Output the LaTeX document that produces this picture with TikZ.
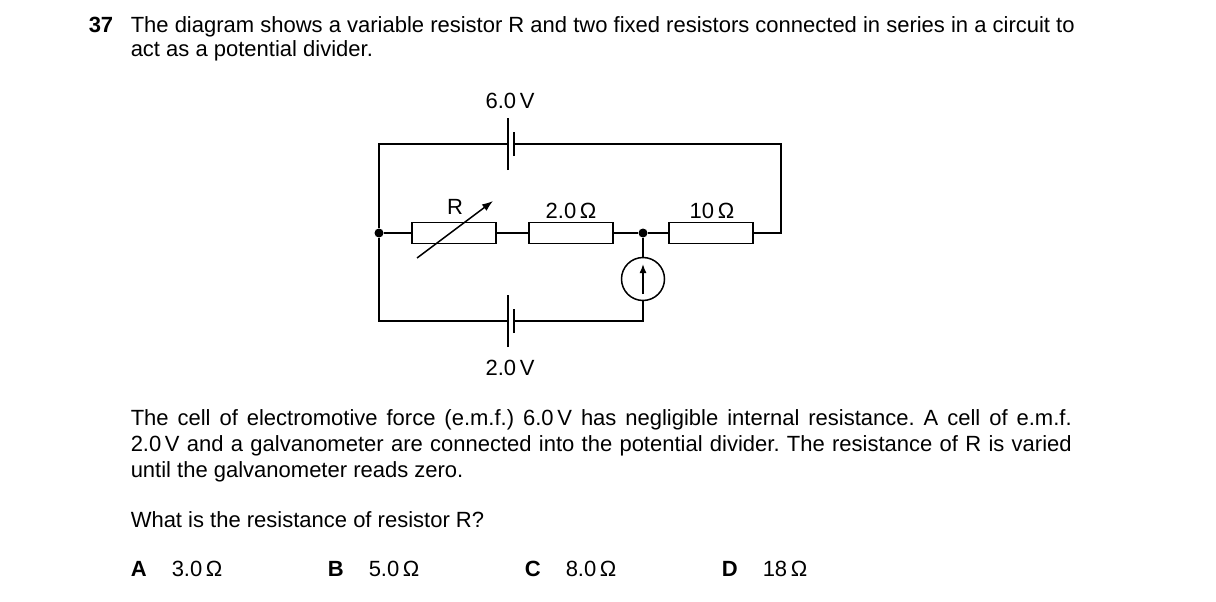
\documentclass[tikz,border=0pt]{standalone}
\usepackage{fontspec}
\setmainfont{Liberation Sans}
\usetikzlibrary{arrows.meta}
\begin{document}
\frenchspacing
\begin{tikzpicture}[x=1pt,y=-1pt,line width=1.5pt,
  txt/.style={inner sep=0pt,font=\fontsize{22}{26}\selectfont},
  btxt/.style={inner sep=0pt,font=\fontsize{22}{26}\selectfont\bfseries},
  res/.style={draw,minimum width=84pt,minimum height=21pt,inner sep=0pt},
  dot/.style={circle,fill,inner sep=0pt,minimum size=9pt},
  lab/.style={txt,anchor=base}]
\useasboundingbox (0,0) rectangle (1216,602);
\node[btxt,anchor=base west] (num) at (88,33) {37};
\node[txt,anchor=base west] (q1) at (130,33) {The diagram shows a variable resistor R and two fixed resistors connected in series in a circuit to};
\node[txt,anchor=base west] (q2) at (130,57) {act as a potential divider.};
% circuit
\coordinate (TL) at (379,144); \coordinate (TR) at (781,144);
\coordinate (BL) at (379,321); \coordinate (BG) at (643,321);
\node[dot] (J1) at (379,233) {};
\node[dot] (J2) at (643,233) {};
\node[res] (R) at (454,233) {};
\node[res] (R2) at (571,233) {};
\node[res] (R3) at (711,233) {};
\node[circle,draw,minimum size=43pt,inner sep=0pt] (G) at (643,279) {};
\coordinate (c1a) at (508,144); \coordinate (c1b) at (514,144);
\coordinate (c2a) at (508,321); \coordinate (c2b) at (514,321);
\coordinate (ga) at (643,294); \coordinate (gb) at (643,264);
\draw (c1a) -- (TL) -- (J1) -- (BL) -- (c2a);
\draw (c1b) -- (TR) |- (R3.east);
\draw (J1) -- (R.west) (R.east) -- (R2.west) (R2.east) -- (J2) -- (R3.west);
\draw (J2) -- (G.north) (G.south) -- (BG) -- (c2b);
\draw ([yshift=-26pt]c1a) -- ([yshift=26pt]c1a);
\draw ([yshift=-12pt]c1b) -- ([yshift=12pt]c1b);
\draw ([yshift=-26pt]c2a) -- ([yshift=26pt]c2a);
\draw ([yshift=-12pt]c2b) -- ([yshift=12pt]c2b);
\draw[-{Latex[length=11pt,width=8pt]}] (417,258) -- (493,201);
\draw[-{Latex[length=9pt,width=7pt]}] (ga) -- (gb);
\node[lab] (lR) at (455,214) {R};
\node[lab] (l2) at (571,218) {2.0\,Ω};
\node[lab] (l10) at (712,218) {10\,Ω};
\node[lab] (v6) at (510,108) {6.0\,V};
\node[lab] (v2) at (510,375) {2.0\,V};
\node[txt,anchor=base west,text width=941pt,align=justify] (p) at (130,425) {The cell of electromotive force (e.m.f.) 6.0\,V has negligible internal resistance. A cell of e.m.f.\linebreak 2.0\,V and a galvanometer are connected into the potential divider. The resistance of R is varied\linebreak until the galvanometer reads zero.};
\node[txt,anchor=base west] (w) at (130,527) {What is the resistance of resistor R?};
\node[btxt,anchor=base west] (A) at (130,576) {A};
\node[txt,anchor=base west] (a) at (171,576) {3.0\,Ω};
\node[btxt,anchor=base west] (B) at (327,576) {B};
\node[txt,anchor=base west] (b) at (368,576) {5.0\,Ω};
\node[btxt,anchor=base west] (C) at (524,576) {C};
\node[txt,anchor=base west] (c) at (565,576) {8.0\,Ω};
\node[btxt,anchor=base west] (D) at (721,576) {D};
\node[txt,anchor=base west] (d) at (762,576) {18\,Ω};
\end{tikzpicture}
\end{document}
